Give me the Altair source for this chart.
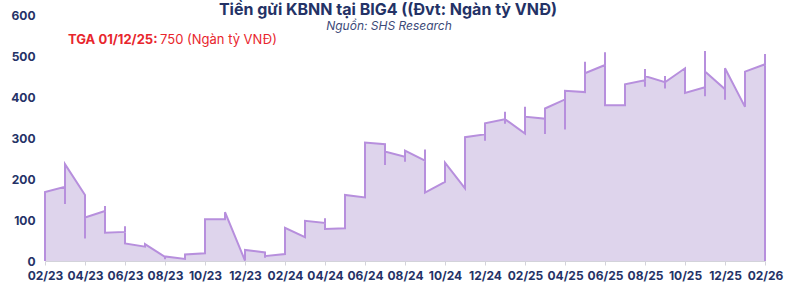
import altair as alt
import pandas as pd

# ---- data ----
tick_labels = ["02/23", "04/23", "06/23", "08/23", "10/23", "12/23",
               "02/24", "04/24", "06/24", "08/24", "10/24", "12/24",
               "02/25", "04/25", "06/25", "08/25", "10/25", "12/25", "02/26"]

# values at each monthly boundary (02/23 ... 02/26), in drawing order
boundary_values = [
    [0, 168], [181, 139, 236], [161, 55, 106], [122, 134, 69], [71, 85, 43],
    [35, 41], [10, 4, 11], [5, 16], [19, 102], [102, 119], [1, 27],
    [21, 8, 12], [17, 81], [58, 98], [93, 104, 78], [80, 161], [155, 289],
    [285, 234, 267], [254, 242, 269], [245, 272, 167], [193, 240], [177, 302],
    [309, 293, 336], [346, 364, 335, 346], [311, 376, 352], [347, 310, 372],
    [394, 321, 415], [412, 486, 458], [478, 509, 380], [380, 431],
    [441, 468, 425, 451], [436, 451, 421, 436], [470, 410],
    [424, 512, 402, 462], [419, 393, 470], [376, 462], [480, 505, 0],
]

title_text = "Tiền gửi KBNN tại BIG4 ((Đvt: Ngàn tỷ VNĐ)"
subtitle_text = "Nguồn: SHS Research"
note_bold = "TGA 01/12/25:"
note_regular = "750 (Ngàn tỷ VNĐ)"

rows = []
seq = 0
for m, vals in enumerate(boundary_values):
    for v in vals:
        rows.append({"m": m, "v": v, "seq": seq})
        seq += 1
df = pd.DataFrame(rows)

NAVY = "#243266"
label_expr = "[" + ",".join(f"'{t}'" for t in tick_labels) + "][round(datum.value/2)]"

x = alt.X("m:Q",
          scale=alt.Scale(domain=[0, len(boundary_values) - 1], nice=False, zero=False),
          axis=alt.Axis(values=list(range(0, len(boundary_values), 2)), labelExpr=label_expr,
                        title=None, grid=False, domainColor="#d3d3da", tickColor="#d3d3da",
                        tickSize=4, labelPadding=5, labelFont="Inter", labelFontWeight="bold",
                        labelFontSize=12, labelColor=NAVY, labelOverlap=False,
                        labelFlush=False))
y = alt.Y("v:Q", stack=None,
          scale=alt.Scale(domain=[0, 600], nice=False),
          axis=alt.Axis(values=[0, 100, 200, 300, 400, 500, 600], title=None, grid=False,
                        domain=False, ticks=False, labelPadding=10, labelFont="Inter",
                        labelFontWeight="bold", labelFontSize=12, labelColor=NAVY))

area = alt.Chart(df).mark_area(fill="#ded4ec", fillOpacity=1, opacity=1).encode(
    x=x, y=y)
line = alt.Chart(df).mark_line(color="#b78fdd", strokeWidth=2).encode(
    x=x, y=y, order=alt.Order("seq:Q"))

def text_layer(txt, px, py, **kw):
    return alt.Chart(pd.DataFrame({"t": [txt]})).mark_text(font="Inter", **kw).encode(
        x=alt.value(px), y=alt.value(py), text="t:N")

title = text_layer(title_text, 343, -5, fontSize=16, fontWeight="bold", color=NAVY,
                   align="center", baseline="middle")
subtitle = text_layer(subtitle_text, 344, 11, fontSize=12, fontStyle="italic", color="#3c4a78",
                      align="center", baseline="middle")
note1 = text_layer(note_bold, 23, 25, fontSize=13, fontWeight="bold", color="#e8262d",
                   align="left", baseline="middle")
note2 = text_layer(note_regular, 115, 25, fontSize=13, color="#e8262d",
                   align="left", baseline="middle")

chart = alt.layer(area, line, title, subtitle, note1, note2).properties(
    width=720, height=246,
    autosize=alt.AutoSizeParams(type="none"),
    padding={"left": 45, "top": 15, "right": 35, "bottom": 23},
    background="white",
).configure_view(stroke=None)

chart.save("out.html", embed_options={"renderer": "svg", "actions": False})
